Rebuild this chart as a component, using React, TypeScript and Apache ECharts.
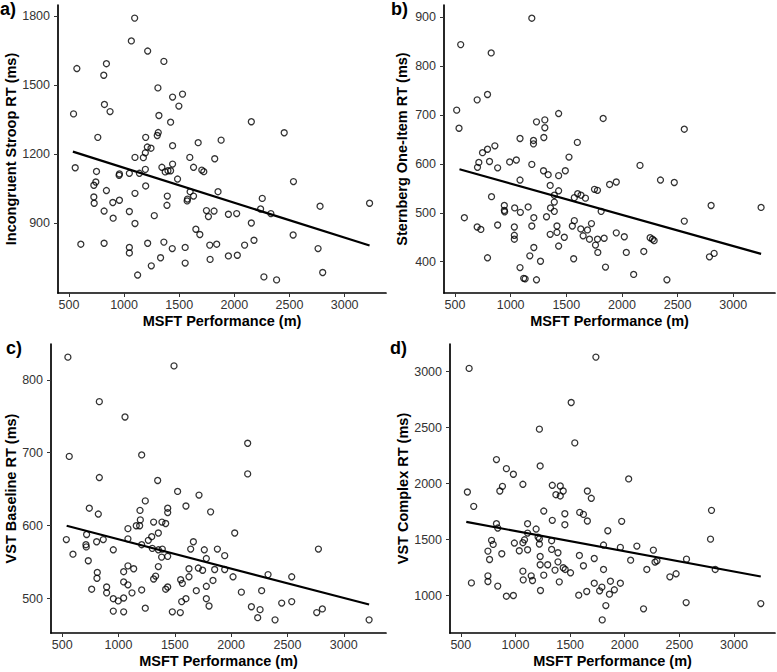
import * as echarts from "echarts";
import { useEffect, useRef } from "react";

// shared x axis (MSFT performance, m)
const X_TICKS = [500, 1000, 1500, 2000, 2500, 3000];
const X_RANGE = [401, 3375];

// a) Incongruent Stroop RT
const strooptData = [
  [1096, 1791], [1066, 1692], [1214, 1648], [1361, 1603], [572, 1572], [840, 1593], [816, 1543],
  [1307, 1488], [1440, 1448], [1530, 1461], [1497, 1409], [822, 1416], [873, 1385], [542, 1375],
  [1316, 1368], [1422, 1339], [1301, 1281], [1310, 1294], [1196, 1273], [762, 1273], [1440, 1237],
  [1672, 1250], [1211, 1231], [1244, 1226], [1193, 1206], [1175, 1185], [1099, 1186], [1596, 1186],
  [557, 1141], [750, 1125], [958, 1114], [955, 1108], [1048, 1117], [1139, 1117], [1193, 1134],
  [1343, 1143], [1373, 1123], [1398, 1128], [1440, 1157], [1422, 1128], [1485, 1092], [1630, 1143],
  [1705, 1131], [1723, 1124], [744, 1079], [726, 1065], [840, 1042], [1196, 1062], [1099, 1030],
  [726, 1014], [729, 987], [898, 990], [958, 1000], [1392, 1018], [1389, 978], [1599, 1037],
  [1575, 1005], [1572, 997], [1630, 1018], [819, 953], [1048, 951], [901, 922], [1274, 933],
  [1099, 899], [1651, 874], [1687, 851], [608, 809], [819, 813], [1048, 795], [1048, 771],
  [1214, 813], [1361, 818], [1437, 790], [1554, 795], [1331, 750], [1247, 715], [1554, 727],
  [1123, 675], [2154, 1341], [2452, 1293], [1880, 1261], [1822, 1180], [2536, 1081], [1852, 1037],
  [2253, 1008], [2238, 962], [2331, 942], [2777, 974], [3226, 987], [1747, 955], [1816, 953],
  [1765, 929], [1946, 939], [2021, 942], [2154, 901], [2533, 849], [1777, 805], [1840, 809],
  [2093, 805], [2178, 826], [2759, 790], [1780, 743], [1946, 758], [2027, 761], [2268, 667],
  [2383, 654], [2801, 686],
];
const strooptFit = [[536, 1211], [3226, 803]];
const strooptTicks = [900, 1200, 1500, 1800];

// b) Sternberg One-Item RT
const sternbergData = [
  [1190, 898], [551, 844], [825, 827], [792, 742], [699, 731], [515, 710], [536, 673], [1232, 686],
  [1307, 690], [1307, 674], [1431, 703], [1084, 652], [1205, 648], [1205, 641], [1298, 654],
  [1599, 644], [858, 637], [792, 630], [747, 623], [714, 603], [702, 593], [810, 605], [883, 592],
  [991, 604], [1051, 608], [1190, 599], [1524, 614], [1295, 586], [1337, 578], [1431, 576],
  [1491, 586], [1084, 567], [1355, 556], [1431, 545], [1392, 536], [1392, 522], [1602, 539],
  [1632, 536], [1572, 531], [1672, 530], [1753, 548], [1780, 546], [828, 533], [943, 515],
  [943, 505], [946, 502], [1036, 510], [1087, 501], [1157, 512], [1208, 490], [1358, 510],
  [1392, 503], [1322, 492], [584, 490], [699, 471], [732, 466], [883, 475], [1033, 471],
  [1033, 454], [1033, 446], [1190, 473], [1416, 473], [1416, 460], [1355, 456], [1482, 450],
  [1431, 432], [1572, 484], [1554, 473], [1630, 467], [1651, 453], [1690, 465], [1708, 446],
  [1726, 478], [1208, 429], [1172, 412], [792, 408], [1268, 401], [1566, 406], [1084, 388],
  [1117, 366], [1130, 365], [1232, 363], [1831, 693], [2560, 671], [2162, 597], [2346, 567],
  [2470, 562], [1889, 558], [1949, 563], [2801, 515], [3250, 511], [1813, 503], [2560, 483],
  [1780, 446], [1840, 448], [1762, 434], [1783, 419], [1949, 459], [2021, 451], [2039, 419],
  [2196, 421], [2253, 449], [2274, 446], [2289, 443], [1852, 389], [2105, 374], [2404, 363],
  [2786, 410], [2828, 417],
];
const sternbergFit = [[540, 589], [3250, 416]];
const sternbergTicks = [400, 500, 600, 700, 800, 900];

// c) VST Baseline RT
const baselineData = [
  [551, 831], [1493, 819], [830, 770], [1058, 749], [563, 695], [1206, 697], [830, 666], [1348, 662],
  [1525, 647], [1238, 634], [1599, 627], [741, 624], [821, 616], [1191, 621], [1194, 608],
  [1437, 624], [1437, 618], [1312, 605], [1386, 605], [1419, 603], [1158, 600], [1188, 600],
  [1084, 596], [1354, 590], [717, 588], [537, 581], [711, 574], [714, 571], [806, 578], [865, 581],
  [1084, 582], [1265, 580], [1295, 585], [1206, 574], [1300, 569], [1354, 567], [1389, 568],
  [1383, 557], [1437, 558], [1641, 568], [1665, 578], [596, 561], [954, 567], [732, 552],
  [1084, 545], [1135, 541], [1354, 544], [812, 536], [809, 528], [1046, 537], [1046, 523],
  [1084, 519], [1312, 527], [1330, 531], [1552, 526], [1567, 521], [1626, 541], [1626, 530],
  [762, 513], [895, 516], [895, 508], [1120, 508], [1206, 512], [1419, 513], [1437, 516],
  [954, 500], [998, 497], [1046, 501], [1561, 496], [1599, 500], [954, 483], [1046, 482],
  [1238, 487], [1478, 482], [1549, 481], [2147, 713], [2147, 671], [1715, 642], [1818, 619],
  [2032, 590], [1762, 567], [1878, 568], [1943, 559], [1780, 555], [1709, 542], [1747, 539],
  [1854, 540], [1943, 540], [1839, 525], [2017, 530], [2328, 533], [2538, 530], [2775, 568],
  [1780, 517], [1691, 511], [2091, 509], [2271, 511], [1780, 500], [1804, 490], [2180, 489],
  [2257, 485], [2236, 474], [2449, 494], [2538, 496], [2390, 471], [2760, 481], [2810, 486],
  [3225, 471],
];
const baselineFit = [[540, 600], [3225, 492]];
const baselineTicks = [500, 600, 700, 800];

// d) VST Complex RT
const complexData = [
  [576, 3030], [1736, 3131], [1510, 2725], [1219, 2487], [1543, 2364], [826, 2215], [917, 2134],
  [981, 2084], [1226, 2158], [881, 1976], [857, 1934], [1068, 1994], [560, 1925], [618, 1797],
  [1337, 1985], [1410, 1979], [1370, 1901], [1410, 1890], [1437, 1934], [1658, 1934], [1694, 1869],
  [1259, 1755], [1337, 1672], [1452, 1731], [1452, 1633], [1588, 1743], [1622, 1725], [1658, 1666],
  [826, 1642], [838, 1603], [1111, 1642], [1189, 1594], [1111, 1558], [1207, 1522], [1219, 1507],
  [1219, 1460], [1083, 1498], [1068, 1472], [781, 1493], [796, 1457], [990, 1469], [1035, 1400],
  [1111, 1409], [1331, 1490], [1331, 1412], [1389, 1382], [748, 1397], [763, 1322], [875, 1373],
  [1226, 1349], [1226, 1275], [1295, 1275], [1389, 1301], [1362, 1227], [1437, 1248], [1455, 1233],
  [1504, 1203], [1585, 1358], [1622, 1266], [1721, 1331], [1806, 1451], [1806, 1233], [1068, 1218],
  [1071, 1140], [1144, 1176], [1156, 1134], [1259, 1182], [1229, 1045], [1401, 1122], [748, 1176],
  [748, 1125], [838, 1084], [597, 1113], [917, 994], [981, 1000], [1579, 1003], [1652, 1036],
  [1721, 1110], [1770, 1042], [1791, 1075], [2036, 2042], [2794, 1761], [2785, 1504], [1972, 1663],
  [1845, 1579], [1960, 1430], [2111, 1442], [2262, 1406], [2054, 1316], [2277, 1299], [2295, 1310],
  [2202, 1233], [2565, 1325], [2828, 1233], [2413, 1167], [2470, 1194], [1869, 1128], [1960, 1110],
  [1905, 1051], [1860, 1012], [1827, 910], [1794, 782], [2172, 881], [2562, 937], [3245, 928],
];
const complexFit = [[550, 1658], [3245, 1170]];
const complexTicks = [1000, 1500, 2000, 2500, 3000];

const FONT = "'Liberation Sans', Arial, sans-serif";

const panels = [
  {
    tag: "a)", title: "Incongruent Stroop RT (ms)", data: strooptData, fit: strooptFit,
    ticks: strooptTicks, yMin: 597, yMax: 1848,
    grid: { left: 58, top: 5, width: 328, height: 288 }, nameGap: 38, tagPos: [0, 0],
  },
  {
    tag: "b)", title: "Sternberg One-Item RT (ms)", data: sternbergData, fit: sternbergFit,
    ticks: sternbergTicks, yMin: 336, yMax: 925,
    grid: { left: 444, top: 5, width: 331, height: 288 }, nameGap: 35, tagPos: [391, 0],
  },
  {
    tag: "c)", title: "VST Baseline RT (ms)", data: baselineData, fit: baselineFit,
    ticks: baselineTicks, yMin: 453, yMax: 849,
    grid: { left: 51, top: 344, width: 335, height: 289 }, nameGap: 30, tagPos: [6, 339],
  },
  {
    tag: "d)", title: "VST Complex RT (ms)", data: complexData, fit: complexFit,
    ticks: complexTicks, yMin: 665, yMax: 3248,
    grid: { left: 450, top: 344, width: 325, height: 289 }, nameGap: 39, tagPos: [390, 339],
  },
];

function axisCommon(ticks) {
  return {
    axisLine: { show: true, onZero: false, lineStyle: { color: "#000", width: 1.7 } },
    axisTick: { show: true, length: 4, customValues: ticks, lineStyle: { color: "#333", width: 1 } },
    axisLabel: {
      customValues: ticks,
      color: "#333",
      fontSize: 12.5,
      fontFamily: FONT,
      formatter: (v) => String(v),
    },
    splitLine: { show: false },
    nameTextStyle: { color: "#000", fontSize: 14.5, fontWeight: "bold", fontFamily: FONT },
  };
}

function getChartOption() {
  return {
    animation: false,
    backgroundColor: "#fff",
    grid: panels.map((p) => ({ ...p.grid, containLabel: false })),
    xAxis: panels.map((p, i) => ({
      type: "value",
      gridIndex: i,
      min: X_RANGE[0],
      max: X_RANGE[1],
      name: "MSFT Performance (m)",
      nameLocation: "middle",
      nameGap: 20,
      ...axisCommon(X_TICKS),
      axisLabel: { ...axisCommon(X_TICKS).axisLabel, margin: 5 },
    })),
    yAxis: panels.map((p, i) => ({
      type: "value",
      gridIndex: i,
      min: p.yMin,
      max: p.yMax,
      name: p.title,
      nameLocation: "middle",
      nameGap: p.nameGap,
      ...axisCommon(p.ticks),
      axisLabel: { ...axisCommon(p.ticks).axisLabel, margin: 8 },
    })),
    series: panels.flatMap((p, i) => [
      {
        type: "scatter",
        xAxisIndex: i,
        yAxisIndex: i,
        data: p.data,
        symbol: "circle",
        symbolSize: 6,
        itemStyle: { color: "rgba(0,0,0,0)", borderColor: "#000", borderWidth: 1.3 },
      },
      {
        type: "line",
        xAxisIndex: i,
        yAxisIndex: i,
        data: p.fit,
        showSymbol: false,
        lineStyle: { color: "#000", width: 2.2 },
        z: 3,
      },
    ]),
    graphic: panels.map((p) => ({
      type: "text",
      x: p.tagPos[0],
      y: p.tagPos[1],
      style: {
        text: p.tag,
        fill: "#000",
        fontSize: 18,
        fontWeight: "bold",
        fontFamily: FONT,
        textVerticalAlign: "top",
      },
    })),
  };
}

export default function App() {
  const chartRef = useRef(null);
  useEffect(() => {
    document.body.style.margin = "0";
    const chart = echarts.init(chartRef.current, null, { renderer: "svg" });
    chart.setOption(getChartOption());
    return () => {
      chart.dispose();
    };
  }, []);
  return <div ref={chartRef} style={{ width: "777px", height: "672px" }} />;
}
